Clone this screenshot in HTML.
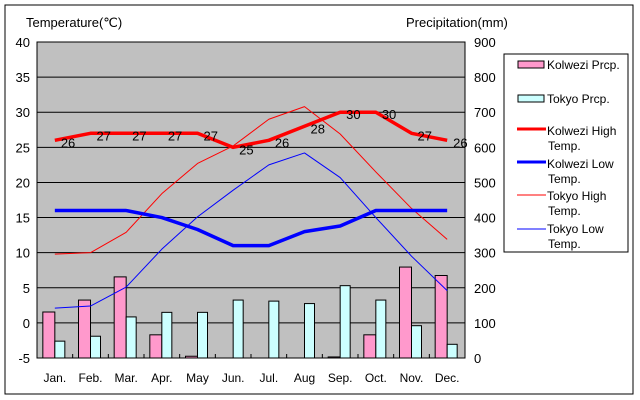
<!DOCTYPE html>
<html><head><meta charset="utf-8"><style>
body{margin:0;background:#fff}
svg{display:block;font-family:"Liberation Sans",sans-serif}
</style></head><body>
<svg id="c" width="640" height="400">
<rect x="5" y="5" width="628" height="389" fill="#fff" stroke="#000"/>
<rect x="37" y="42" width="428" height="316" fill="#c0c0c0" stroke="#000"/>
<text x="26" y="27" font-size="13">Temperature(℃)</text>
<text x="406" y="27" font-size="13">Precipitation(mm)</text>
<g id="grid"></g><g id="bars"></g><g id="lines"></g><g id="labels"></g>
<g>
<rect x="504" y="54" width="124" height="198" fill="#fff" stroke="#000"/>
<rect x="518" y="61" width="26" height="7" fill="#ff99cc" stroke="#000"/>
<text x="547" y="69" font-size="12">Kolwezi Prcp.</text>
<rect x="518" y="95" width="26" height="7" fill="#ccffff" stroke="#000"/>
<text x="547" y="103" font-size="12">Tokyo Prcp.</text>
<line x1="517" y1="129" x2="546" y2="129" stroke="#f00" stroke-width="3"/>
<text x="547" y="135" font-size="12">Kolwezi High</text><text x="548" y="150" font-size="12">Temp.</text>
<line x1="517" y1="162" x2="546" y2="162" stroke="#00f" stroke-width="3"/>
<text x="547" y="168" font-size="12">Kolwezi Low</text><text x="548" y="183" font-size="12">Temp.</text>
<line x1="517" y1="195" x2="546" y2="195" stroke="#f00" stroke-width="1"/>
<text x="547" y="200" font-size="12">Tokyo High</text><text x="548" y="215" font-size="12">Temp.</text>
<line x1="517" y1="229" x2="546" y2="229" stroke="#00f" stroke-width="1"/>
<text x="547" y="233" font-size="12">Tokyo Low</text><text x="548" y="248" font-size="12">Temp.</text>
</g>
</svg>
<script>
const months=["Jan.","Feb.","Mar.","Apr.","May","Jun.","Jul.","Aug","Sep.","Oct.","Nov.","Dec."];
const tempTicks=[-5,0,5,10,15,20,25,30,35,40];
const precTicks=[0,100,200,300,400,500,600,700,800,900];
const kolweziPrcp=[131,165,231,66,5,0,0,0,3,66,259,235];
const tokyoPrcp=[48,62,117,130,130,165,162,155,206,165,92,39];
const kolweziHigh=[26,27,27,27,27,25,26,28,30,30,27,26];
const kolweziLow=[16,16,16,15,13.3,11,11,13,13.8,16,16,16];
const tokyoHigh=[9.8,10,12.9,18.4,22.7,25.2,29,30.8,26.9,21.5,16.3,11.9];
const tokyoLow=[2.1,2.4,5.1,10.5,15.1,18.9,22.5,24.2,20.7,15,9.5,4.6];
const NS="http://www.w3.org/2000/svg";
const L=37,R=465,T=42,B=358,bw=(R-L)/12;
const yT=v=>B-(v+5)/45*(B-T);
const yP=v=>B-v/900*(B-T);
const xM=i=>L+bw*(i+0.5);
function mk(tag,attrs,parent,txt){const e=document.createElementNS(NS,tag);for(const k in attrs)e.setAttribute(k,attrs[k]);if(txt!==undefined)e.textContent=txt;document.getElementById(parent).appendChild(e);return e;}
tempTicks.forEach(t=>{
 if(t>-5&&t<40){const g=mk("line",{x1:L,x2:R,y1:yT(t),y2:yT(t),stroke:"#000"},"grid");
 
 }
 const e=mk("text",{x:30,y:yT(t)+5,"font-size":13,"text-anchor":"end"},"grid",String(t));
 
 
});
precTicks.forEach(p=>{
 const e=mk("text",{x:474,y:yP(p)+5,"font-size":13},"grid",String(p));
 
 
});
months.forEach((m,i)=>{
 const e=mk("text",{x:xM(i),y:382,"font-size":12,"text-anchor":"middle"},"grid",m);
 
 
 if(i>0){const t=mk("line",{x1:L+bw*i,x2:L+bw*i,y1:B,y2:B-4,stroke:"#000"},"grid");
 
 }
 const a=mk("rect",{x:xM(i)-12,y:yP(kolweziPrcp[i]),width:12,height:B-yP(kolweziPrcp[i]),fill:"#ff99cc",stroke:"#000"},"bars");
 
 
 const b=mk("rect",{x:xM(i),y:yP(tokyoPrcp[i]),width:10,height:B-yP(tokyoPrcp[i]),fill:"#ccffff",stroke:"#000"},"bars");
 
 
});
function line(arr,col,w,name){
 const pts=arr.map((v,i)=>xM(i)+","+yT(v)).join(" ");
 const e=mk("polyline",{points:pts,fill:"none",stroke:col,"stroke-width":w,"stroke-linejoin":"round"},"lines");
 
 
}
line(tokyoHigh,"#f00",1,"line-tokyo-high");
line(tokyoLow,"#00f",1,"line-tokyo-low");
line(kolweziLow,"#00f",3.5,"line-kolwezi-low");
line(kolweziHigh,"#f00",3.5,"line-kolwezi-high");
kolweziHigh.forEach((v,i)=>{
 const e=mk("text",{x:xM(i)+6,y:yT(v)+7,"font-size":13},"labels",String(v));
 
 
});
</script>
</body></html>
